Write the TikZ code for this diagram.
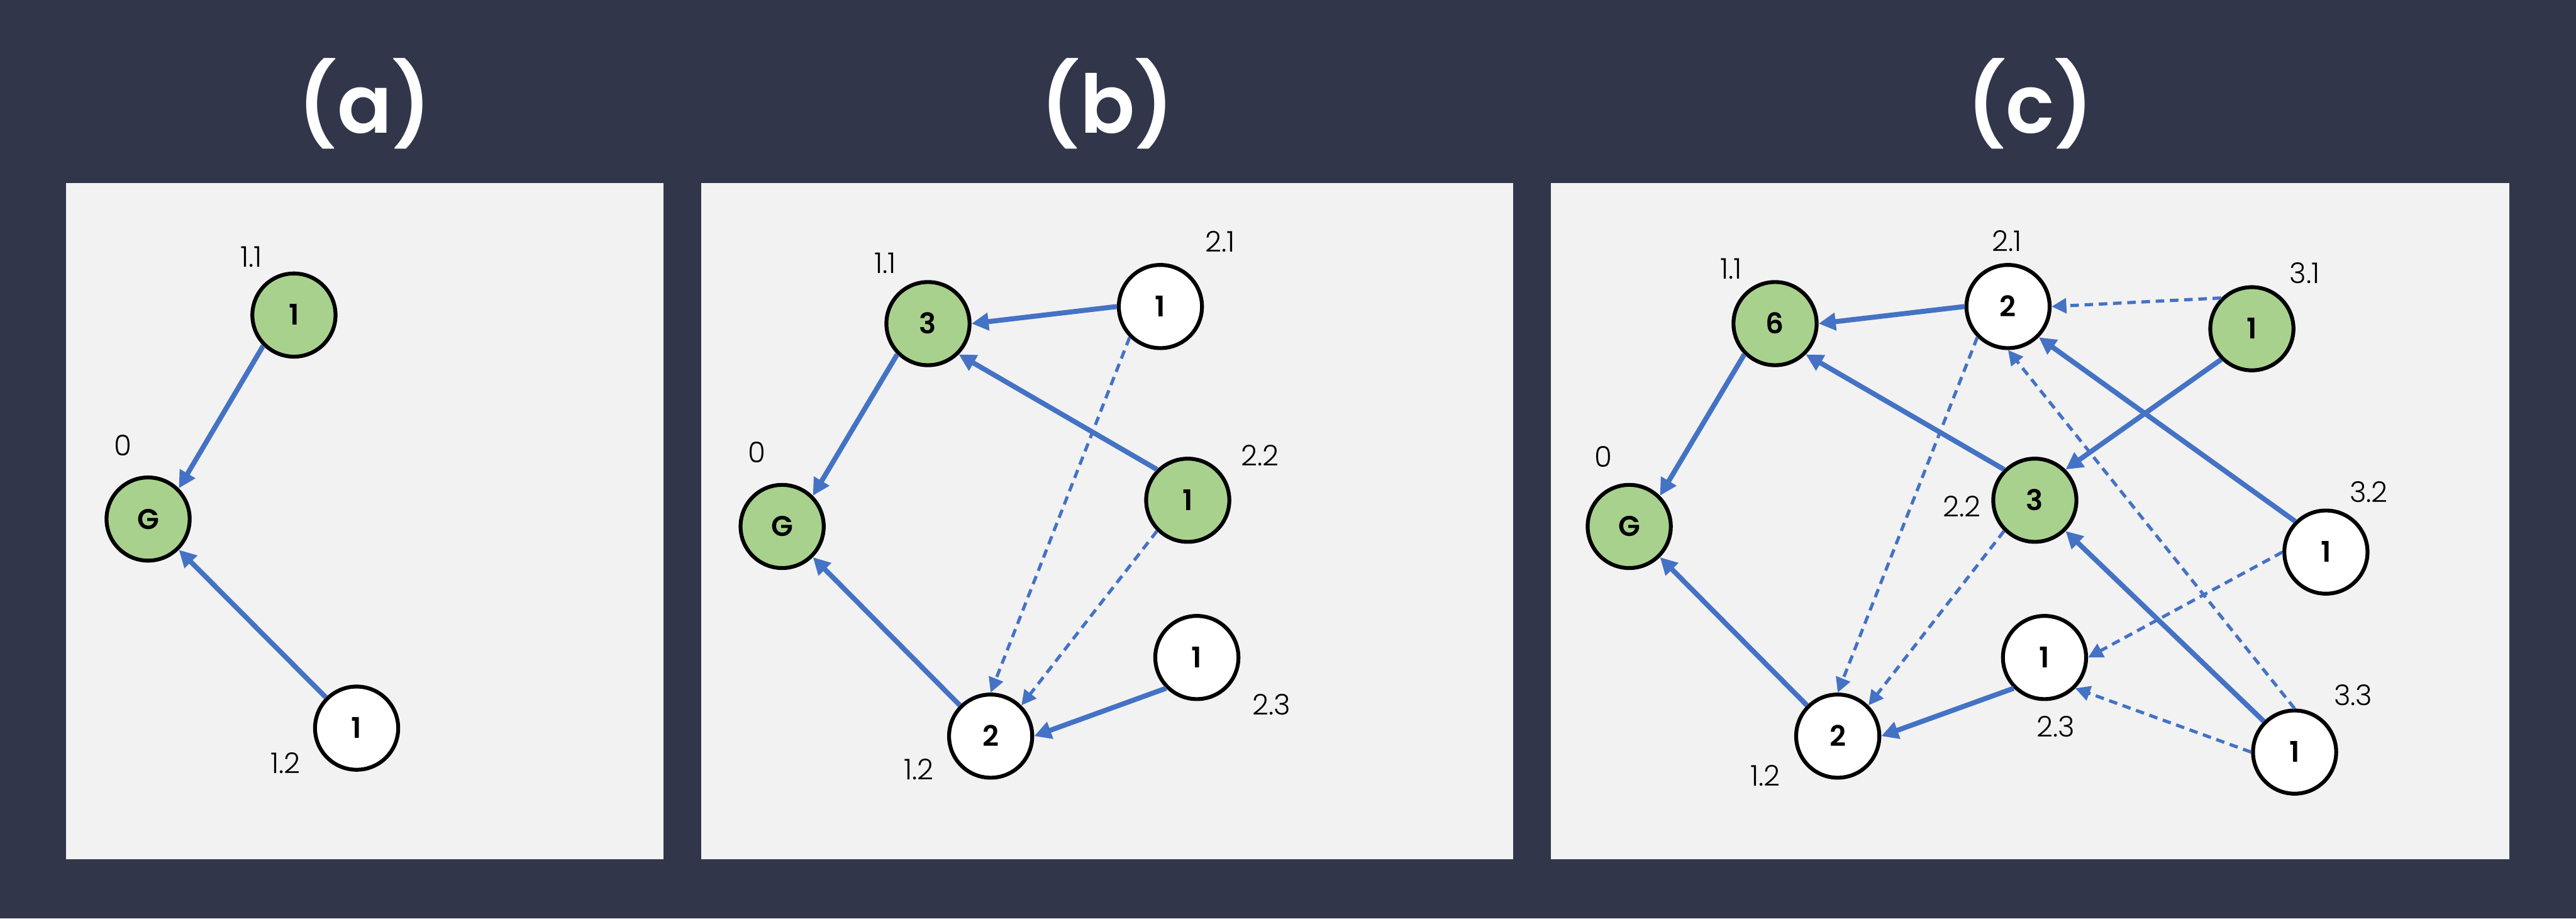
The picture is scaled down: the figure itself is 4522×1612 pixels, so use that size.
\documentclass[tikz,border=0pt]{standalone}
\usepackage{fontspec}
\setmainfont{Poppins}
\IfFontExistsTF{Poppins Light}{\newfontfamily\lblfont{Poppins Light}}{\newfontfamily\lblfont{Poppins}}
\IfFontExistsTF{Poppins SemiBold}{\newfontfamily\numfont{Poppins SemiBold}}{\newcommand\numfont{\bfseries}}
\usetikzlibrary{arrows.meta}
\definecolor{bgnavy}{HTML}{31364B}
\definecolor{panelgray}{HTML}{F2F2F2}
\definecolor{nodegreen}{HTML}{A9D18E}
\definecolor{edgeblue}{HTML}{4472C4}
\tikzset{
  basenode/.style={circle, draw=black, line width=1.7pt, minimum size=36.5pt, inner sep=0pt,
    font=\numfont\fontsize{12.5}{15}\selectfont, text height=8.75pt, text depth=0pt},
  gnode/.style={basenode, fill=nodegreen},
  wnode/.style={basenode, fill=white},
  lbl/.style={font=\lblfont\fontsize{12.5}{15}\selectfont, anchor=base, inner sep=0pt, text=black},
  paneltitle/.style={font=\numfont\fontsize{35.5}{40}\selectfont, text=white, anchor=base, inner sep=0pt},
  solidedge/.style={draw=edgeblue, line width=2.2pt, -{Triangle[length=7.5pt,width=7.5pt]}},
  dashedge/.style={draw=edgeblue, line width=1.4pt, dash pattern=on 3.75pt off 2.5pt, -{Triangle[length=6.5pt,width=6.5pt]}},
  panelbox/.style={fill=panelgray, draw=none}
}
\begin{document}
\begin{tikzpicture}[x=0.25pt, y=-0.25pt]
\fill[bgnavy] (0,0) rectangle (4522,1612);
\useasboundingbox (0,0) rectangle (4522,1612);
% panels
\path[panelbox] (116,321) rectangle (1165,1508);
\path[panelbox] (1231,321) rectangle (2656,1508);
\path[panelbox] (2722,321) rectangle (4405,1508);
% titles
\node[paneltitle] (ta) at (640,233) {(a)};
\node[paneltitle] (tb) at (1944,233) {(b)};
\node[paneltitle] (tc) at (3564,233) {(c)};
% ---- panel a
\node[gnode] (a11) at (516,553) {1};
\node[gnode] (a0) at (260,911) {G};
\node[wnode] (a12) at (626,1278) {1};
\node[lbl] (la11) at (441,469) {1.1};
\node[lbl] (la0) at (216,800) {0};
\node[lbl] (la12) at (501,1357) {1.2};
\draw[solidedge] (a11.225) -- (a0.45);
\draw[solidedge] (a12.135) -- (a0.315);
% ---- panel b
\node[gnode] (b11) at (1629,568) {3};
\node[wnode] (b21) at (2037,538) {1};
\node[gnode] (b0) at (1373,924) {G};
\node[gnode] (b22) at (2085,878) {1};
\node[wnode] (b12) at (1739,1292) {2};
\node[wnode] (b23) at (2101,1154) {1};
\node[lbl] (lb11) at (1554,480) {1.1};
\node[lbl] (lb21) at (2142,442) {2.1};
\node[lbl] (lb0) at (1329,812) {0};
\node[lbl] (lb22) at (2212,818) {2.2};
\node[lbl] (lb23) at (2232,1255) {2.3};
\node[lbl] (lb12) at (1613,1368) {1.2};
\draw[solidedge] (b21.180) -- (b11.0);
\draw[solidedge] (b22.135) -- (b11.315);
\draw[solidedge] (b11.225) -- (b0.45);
\draw[solidedge] (b12.135) -- (b0.315);
\draw[solidedge] (b23.225) -- (b12.0);
\draw[dashedge] (b21.225) -- (b12.90);
\draw[dashedge] (b22.225) -- (b12.45);
% ---- panel c
\node[gnode] (c11) at (3116,568) {6};
\node[wnode] (c21) at (3525,538) {2};
\node[gnode] (c31) at (3953,577) {1};
\node[gnode] (c0) at (2860,924) {G};
\node[gnode] (c22) at (3572,878) {3};
\node[wnode] (c32) at (4083,969) {1};
\node[wnode] (c23) at (3589,1154) {1};
\node[wnode] (c12) at (3226,1292) {2};
\node[wnode] (c33) at (4028,1320) {1};
\node[lbl] (lc11) at (3039,490) {1.1};
\node[lbl] (lc21) at (3523,441) {2.1};
\node[lbl] (lc31) at (4046,497) {3.1};
\node[lbl] (lc0) at (2815,820) {0};
\node[lbl] (lc22) at (3444,907) {2.2};
\node[lbl] (lc32) at (4158,882) {3.2};
\node[lbl] (lc23) at (3609,1293) {2.3};
\node[lbl] (lc33) at (4131,1238) {3.3};
\node[lbl] (lc12) at (3099,1379) {1.2};
\draw[solidedge] (c21.180) -- (c11.0);
\draw[solidedge] (c22.135) -- (c11.315);
\draw[solidedge] (c11.225) -- (c0.45);
\draw[solidedge] (c12.135) -- (c0.315);
\draw[solidedge] (c23.225) -- (c12.0);
\draw[dashedge] (c31.135) -- (c21.0);
\draw[solidedge] (c31.225) -- (c22.45);
\draw[solidedge] (c32.135) -- (c21.315);
\draw[dashedge] (c33.90) -- (c21.270);
\draw[solidedge] (c33.135) -- (c22.315);
\draw[dashedge] (c32.180) -- (c23.0);
\draw[dashedge] (c33.180) -- (c23.315);
\draw[dashedge] (c21.225) -- (c12.90);
\draw[dashedge] (c22.225) -- (c12.45);
\end{tikzpicture}
\end{document}
